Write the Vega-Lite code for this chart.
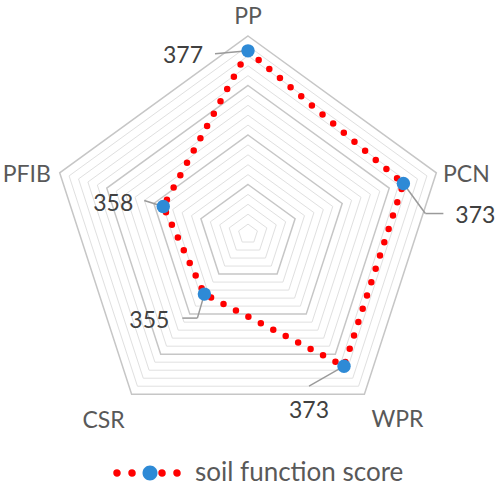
{
"$schema":"https://vega.github.io/schema/vega-lite/v6.json",
"width":498,"height":486,"autosize":"none","padding":0,"background":"#ffffff",
"config":{"view":{"stroke":null},"font":"Lato"},
"datasets":{
 "scores":[
  {"axis":"PP","i":0,"score":377,"series":"soil function score"},
  {"axis":"PCN","i":1,"score":373,"series":"soil function score"},
  {"axis":"WPR","i":2,"score":373,"series":"soil function score"},
  {"axis":"CSR","i":3,"score":355,"series":"soil function score"},
  {"axis":"PFIB","i":4,"score":358,"series":"soil function score"}],
 "rings":[
  {"level":342,"major":false,"i":[0,1,2,3,4]},
  {"level":344,"major":false,"i":[0,1,2,3,4]},
  {"level":346,"major":false,"i":[0,1,2,3,4]},
  {"level":348,"major":false,"i":[0,1,2,3,4]},
  {"level":350,"major":true,"i":[0,1,2,3,4]},
  {"level":352,"major":false,"i":[0,1,2,3,4]},
  {"level":354,"major":false,"i":[0,1,2,3,4]},
  {"level":356,"major":false,"i":[0,1,2,3,4]},
  {"level":358,"major":false,"i":[0,1,2,3,4]},
  {"level":360,"major":true,"i":[0,1,2,3,4]},
  {"level":362,"major":false,"i":[0,1,2,3,4]},
  {"level":364,"major":false,"i":[0,1,2,3,4]},
  {"level":366,"major":false,"i":[0,1,2,3,4]},
  {"level":368,"major":false,"i":[0,1,2,3,4]},
  {"level":370,"major":true,"i":[0,1,2,3,4]},
  {"level":372,"major":false,"i":[0,1,2,3,4]},
  {"level":374,"major":false,"i":[0,1,2,3,4]},
  {"level":376,"major":false,"i":[0,1,2,3,4]},
  {"level":378,"major":false,"i":[0,1,2,3,4]},
  {"level":380,"major":true,"i":[0,1,2,3,4]}]
},
"encoding":{
 "x":{"field":"x","type":"quantitative","scale":{"domain":[-50.1,50.5],"nice":false,"zero":false},"axis":null},
 "y":{"field":"y","type":"quantitative","scale":{"domain":[-50.9,47.27],"nice":false,"zero":false},"axis":null}
},
"layer":[
 {"data":{"name":"rings"},
  "transform":[{"filter":"!datum.major"},{"flatten":["i"]},
   {"calculate":"(datum.level-340)*sin(2*PI*datum.i/5)","as":"x"},
   {"calculate":"(datum.level-340)*cos(2*PI*datum.i/5)","as":"y"}],
  "mark":{"type":"line","interpolate":"linear-closed","stroke":"#e0e0e0","strokeWidth":1},
  "encoding":{"detail":{"field":"level","type":"nominal"},"order":{"field":"i","type":"quantitative"}}},
 {"data":{"name":"rings"},
  "transform":[{"filter":"datum.major"},{"flatten":["i"]},
   {"calculate":"(datum.level-340)*sin(2*PI*datum.i/5)","as":"x"},
   {"calculate":"(datum.level-340)*cos(2*PI*datum.i/5)","as":"y"}],
  "mark":{"type":"line","interpolate":"linear-closed","stroke":"#c6c6c6","strokeWidth":1.5},
  "encoding":{"detail":{"field":"level","type":"nominal"},"order":{"field":"i","type":"quantitative"}}},
 {"data":{"name":"scores"},
  "transform":[
   {"calculate":"(datum.score-340)*sin(2*PI*datum.i/5)","as":"px"},
   {"calculate":"(datum.score-340)*cos(2*PI*datum.i/5)","as":"py"}],
  "layer":[
   {"transform":[
     {"calculate":"datum.px","as":"x"},{"calculate":"datum.py","as":"y"},
     {"calculate":"datum.px + (datum.axis=='PP' ? -6.67 : datum.axis=='PCN' ? 4.44 : datum.axis=='WPR' ? -7.07 : datum.axis=='PFIB' ? -3.84 : -1.41)","as":"x2"},
     {"calculate":"datum.py + (datum.axis=='PP' ? -0.61 : datum.axis=='PCN' ? -6.06 : datum.axis=='WPR' ? -4.04 : datum.axis=='PFIB' ? 1.21 : -4.85)","as":"y2"}],
    "mark":{"type":"rule","stroke":"#9a9a9a","strokeWidth":1.5},
    "encoding":{"x2":{"field":"x2"},"y2":{"field":"y2"}}},
   {"transform":[
     {"filter":"datum.axis=='PCN' || datum.axis=='CSR'"},
     {"calculate":"datum.px + (datum.axis=='PCN' ? 4.44 : -1.41)","as":"x"},
     {"calculate":"datum.py + (datum.axis=='PCN' ? -6.06 : -4.85)","as":"y"},
     {"calculate":"datum.px + (datum.axis=='PCN' ? 8.08 : -4.44)","as":"x2"},
     {"calculate":"datum.y","as":"y2"}],
    "mark":{"type":"rule","stroke":"#9a9a9a","strokeWidth":1.5},
    "encoding":{"x2":{"field":"x2"},"y2":{"field":"y2"}}},
   {"transform":[{"calculate":"datum.px","as":"x"},{"calculate":"datum.py","as":"y"}],
    "mark":{"type":"line","interpolate":"linear-closed","strokeDash":[0,14],"strokeCap":"round","strokeWidth":6.5},
    "encoding":{
     "order":{"field":"i","type":"quantitative"},
     "color":{"field":"series","type":"nominal","scale":{"range":["#ff0000"]},
      "legend":{"orient":"none","legendX":116,"legendY":439,"title":null,"padding":0,"labelLimit":0,
       "symbolType":"M-1.091,0A0.091,0.091 0 1,0 -0.909,0A0.091,0.091 0 1,0 -1.091,0Z M-0.636,0A0.091,0.091 0 1,0 -0.454,0A0.091,0.091 0 1,0 -0.636,0Z M0.273,0A0.091,0.091 0 1,0 0.455,0A0.091,0.091 0 1,0 0.273,0Z M0.727,0A0.091,0.091 0 1,0 0.909,0A0.091,0.091 0 1,0 0.727,0Z",
       "symbolSize":4356,"labelFont":"Lato","labelFontSize":26,"labelColor":"#595959","labelOffset":11,
       "encode":{"symbols":{"update":{"fill":{"value":"#ff0000"},"stroke":{"value":"transparent"},"opacity":{"value":1}}}}}}}},
   {"transform":[{"calculate":"datum.px","as":"x"},{"calculate":"datum.py","as":"y"}],
    "mark":{"type":"point","filled":true,"size":180,"opacity":1,"strokeWidth":0},
    "encoding":{
     "fill":{"field":"series","type":"nominal","scale":{"range":["#2e8ad6"]},
      "legend":{"orient":"none","legendX":116,"legendY":439,"title":null,"padding":0,"labelLimit":0,
       "symbolType":"M-0.227,0A0.227,0.227 0 1,0 0.227,0A0.227,0.227 0 1,0 -0.227,0Z",
       "symbolSize":4356,"labelFont":"Lato","labelFontSize":26,"labelOpacity":0,"labelOffset":11,
       "encode":{"symbols":{"update":{"fill":{"value":"#2e8ad6"},"stroke":{"value":"transparent"},"opacity":{"value":1}}}}}}}},
   {"transform":[{"calculate":"datum.px","as":"x"},{"calculate":"datum.py","as":"y"}],
    "layer":[
     {"transform":[{"filter":"datum.axis=='PP'"}],"mark":{"type":"text","dx":-65,"dy":12,"fontSize":23,"color":"#404040","baseline":"alphabetic","align":"center"},"encoding":{"text":{"field":"score"}}},
     {"transform":[{"filter":"datum.axis=='PCN'"}],"mark":{"type":"text","dx":72,"dy":39,"fontSize":23,"color":"#404040","baseline":"alphabetic","align":"center"},"encoding":{"text":{"field":"score"}}},
     {"transform":[{"filter":"datum.axis=='WPR'"}],"mark":{"type":"text","dx":-35,"dy":52,"fontSize":23,"color":"#404040","baseline":"alphabetic","align":"center"},"encoding":{"text":{"field":"score"}}},
     {"transform":[{"filter":"datum.axis=='PFIB'"}],"mark":{"type":"text","dx":-50,"dy":5,"fontSize":23,"color":"#404040","baseline":"alphabetic","align":"center"},"encoding":{"text":{"field":"score"}}},
     {"transform":[{"filter":"datum.axis=='CSR'"}],"mark":{"type":"text","dx":-55,"dy":34,"fontSize":23,"color":"#404040","baseline":"alphabetic","align":"center"},"encoding":{"text":{"field":"score"}}}]},
   {"transform":[{"calculate":"40*sin(2*PI*datum.i/5)","as":"x"},{"calculate":"40*cos(2*PI*datum.i/5)","as":"y"}],
    "layer":[
     {"transform":[{"filter":"datum.axis=='PP'"}],"mark":{"type":"text","dx":0,"dy":-12,"fontSize":23,"color":"#595959","baseline":"alphabetic","align":"center"},"encoding":{"text":{"field":"axis"}}},
     {"transform":[{"filter":"datum.axis=='PCN'"}],"mark":{"type":"text","dx":30,"dy":9,"fontSize":23,"color":"#595959","baseline":"alphabetic","align":"center"},"encoding":{"text":{"field":"axis"}}},
     {"transform":[{"filter":"datum.axis=='WPR'"}],"mark":{"type":"text","dx":33,"dy":33,"fontSize":23,"color":"#595959","baseline":"alphabetic","align":"center"},"encoding":{"text":{"field":"axis"}}},
     {"transform":[{"filter":"datum.axis=='CSR'"}],"mark":{"type":"text","dx":-28,"dy":34,"fontSize":23,"color":"#595959","baseline":"alphabetic","align":"center"},"encoding":{"text":{"field":"axis"}}},
     {"transform":[{"filter":"datum.axis=='PFIB'"}],"mark":{"type":"text","dx":-33,"dy":9,"fontSize":23,"color":"#595959","baseline":"alphabetic","align":"center"},"encoding":{"text":{"field":"axis"}}}]}
  ]}
]
}
